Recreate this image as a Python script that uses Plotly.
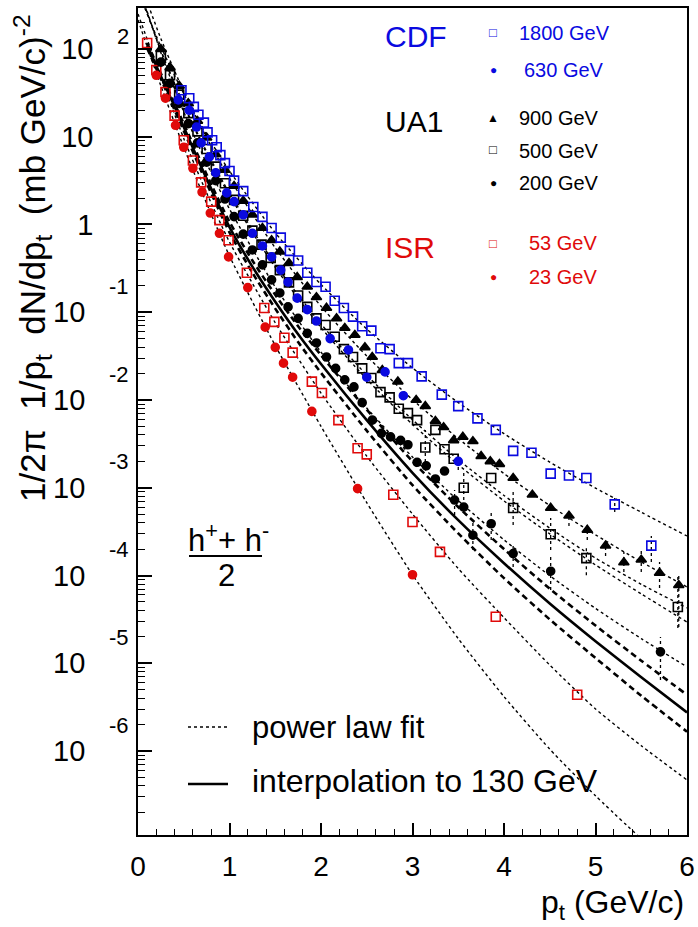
import plotly.graph_objects as go

# ---------------- data ----------------
# CDF 1800 GeV (blue open squares)
cdf1800_pt = [0.475, 0.56, 0.61, 0.66, 0.72, 0.76, 0.81, 0.86, 0.90, 0.95, 1.00, 1.05, 1.15, 1.26, 1.36,
              1.46, 1.56, 1.66, 1.75, 1.85, 1.95, 2.05, 2.15, 2.25, 2.35, 2.45, 2.55, 2.65, 2.75, 2.85,
              2.95, 3.10, 3.32, 3.50, 3.71, 3.91, 4.10, 4.30, 4.51, 4.71, 4.90, 5.21, 5.61]
cdf1800_y = [33.9, 27.5, 21.9, 17.8, 14.5, 11.2, 9.12, 7.59, 6.17, 5.01, 4.07, 3.16, 2.40, 1.58, 1.22,
             0.912, 0.708, 0.501, 0.389, 0.282, 0.221, 0.195, 0.135, 0.112, 0.0891, 0.0692, 0.0617, 0.0389, 0.0380, 0.0263,
             0.0263, 0.0186, 0.0115, 8.51e-3, 6.17e-3, 4.57e-3, 2.63e-3, 2.51e-3, 1.45e-3, 1.38e-3, 1.29e-3, 6.46e-4, 2.19e-4]

# CDF 630 GeV (blue filled circles)
cdf630_pt = [0.44, 0.56, 0.64, 0.69, 0.78, 0.85, 0.97, 1.05, 1.15, 1.25, 1.36, 1.46, 1.56, 1.64, 1.74,
             1.85, 1.95, 2.10, 2.30, 2.50, 2.70, 2.90, 3.50]
cdf630_y = [26.3, 20.0, 12.9, 8.51, 5.89, 3.89, 2.29, 1.82, 1.29, 0.794, 0.569, 0.427, 0.302, 0.221, 0.145,
            0.107, 0.0794, 0.0501, 0.0372, 0.0182, 0.0209, 0.0112, 2.00e-3]

# UA1 900 GeV (black triangles)
ua1_900_pt = [0.25, 0.35, 0.45, 0.55, 0.65, 0.75, 0.85, 0.95, 1.05, 1.15, 1.25, 1.36, 1.46, 1.55, 1.65,
              1.74, 1.85, 1.95, 2.06, 2.17, 2.26, 2.37, 2.48, 2.56, 2.67, 2.84, 3.04, 3.14, 3.25, 3.34,
              3.45, 3.55, 3.66, 3.75, 3.85, 3.95, 4.10, 4.31, 4.51, 4.71, 4.91, 5.11, 5.31, 5.50, 5.70, 5.91]
ua1_900_y = [100, 61.7, 38.0, 24.0, 15.1, 9.77, 6.31, 4.17, 2.75, 1.86, 1.29, 0.912, 0.661, 0.490, 0.363,
             0.251, 0.195, 0.148, 0.112, 0.0851, 0.0661, 0.0550, 0.0398, 0.0309, 0.0219, 0.0162, 0.0100, 8.51e-3, 5.75e-3, 4.90e-3,
             3.47e-3, 3.80e-3, 3.39e-3, 2.29e-3, 2.00e-3, 1.86e-3, 1.29e-3, 8.32e-4, 5.89e-4, 4.79e-4, 3.31e-4, 2.19e-4, 1.41e-4, 1.51e-4, 1.07e-4, 7.76e-5]

# UA1 500 GeV (black open squares)
ua1_500_pt = [0.25, 0.35, 0.45, 0.55, 0.65, 0.75, 0.85, 0.95, 1.05, 1.15, 1.25, 1.35, 1.45, 1.55, 1.65,
              1.75, 1.85, 1.95, 2.05, 2.15, 2.25, 2.35, 2.45, 2.55, 2.65, 2.75, 2.85, 2.95, 3.05, 3.14,
              3.25, 3.35, 3.45, 3.56, 3.86, 4.10, 4.51, 4.90, 5.90]
ua1_500_y = [83.2, 50.1, 30.2, 18.6, 11.5, 7.24, 4.57, 2.95, 1.91, 1.26, 0.851, 0.589, 0.417, 0.302, 0.219,
             0.155, 0.115, 0.0851, 0.0716, 0.0525, 0.0380, 0.0309, 0.0229, 0.0178, 0.0123, 0.0107, 7.94e-3, 7.08e-3, 5.89e-3, 2.88e-3,
             4.57e-3, 2.75e-3, 2.14e-3, 1.00e-3, 1.29e-3, 5.89e-4, 2.95e-4, 1.58e-4, 4.37e-5]

# UA1 200 GeV (black filled circles)
ua1_200_pt = [0.25, 0.35, 0.45, 0.55, 0.65, 0.75, 0.85, 0.95, 1.05, 1.15, 1.25, 1.36, 1.46, 1.55, 1.64,
              1.75, 1.85, 1.95, 2.06, 2.16, 2.26, 2.36, 2.45, 2.56, 2.66, 2.76, 2.87, 2.95, 3.05, 3.15,
              3.25, 3.35, 3.46, 3.56, 3.66, 3.86, 4.10, 4.51, 5.71]
ua1_200_y = [70.8, 40.7, 24.0, 14.1, 8.51, 5.13, 3.16, 1.95, 1.23, 0.776, 0.513, 0.347, 0.234, 0.166, 0.115,
             0.0851, 0.0575, 0.0447, 0.0309, 0.0229, 0.0170, 0.0141, 9.33e-3, 5.89e-3, 4.17e-3, 3.80e-3, 3.47e-3, 3.09e-3, 1.95e-3, 1.78e-3,
             1.26e-3, 1.55e-3, 7.24e-4, 6.03e-4, 2.88e-4, 3.89e-4, 1.78e-4, 1.12e-4, 1.35e-5]

# ISR 53 GeV (red open squares)
isr53_pt = [0.10, 0.20, 0.30, 0.40, 0.50, 0.60, 0.69, 0.80, 0.89, 0.99, 1.19, 1.38, 1.49, 1.60, 1.69,
            1.90, 2.01, 2.19, 2.40, 2.50, 2.79, 3.00, 3.30, 3.91, 4.80]
isr53_y = [117, 57.5, 32.4, 17.4, 9.12, 5.37, 3.02, 1.82, 1.12, 0.661, 0.282, 0.112, 0.0776, 0.0513, 0.0347,
           0.0162, 0.0120, 5.89e-3, 2.82e-3, 2.40e-3, 8.32e-4, 4.07e-4, 1.86e-4, 3.39e-5, 4.37e-6]

# ISR 23 GeV (red filled circles)
isr23_pt = [0.20, 0.30, 0.41, 0.50, 0.60, 0.70, 0.79, 0.89, 0.99, 1.20, 1.39, 1.50, 1.59, 1.69, 1.90, 2.40, 3.00]
isr23_y = [50.1, 27.5, 13.5, 7.59, 4.37, 2.34, 1.35, 0.794, 0.427, 0.191, 0.0676, 0.0398, 0.0263, 0.0182, 7.41e-3, 9.77e-4, 1.02e-4]

# vertical error bars (pt, lower end, upper end)
ua1_200_err_pt = [3.46, 3.66, 3.86, 4.10, 4.51, 5.71]
ua1_200_err_lo = [4.89e-4, 1.95e-4, 2.54e-4, 1.25e-4, 6.84e-5, 6.44e-6]
ua1_200_err_hi = [9.42e-4, 4.29e-4, 5.57e-4, 2.23e-4, 1.63e-4, 1.99e-5]
ua1_500_err_pt = [3.14, 3.56, 4.10, 4.51, 4.90, 5.90]
ua1_500_err_lo = [1.97e-3, 7.24e-4, 3.76e-4, 1.95e-4, 1.01e-4, 2.52e-5]
ua1_500_err_hi = [4.55e-3, 1.47e-3, 8.95e-4, 4.52e-4, 2.06e-4, 9.62e-5]
ua1_900_err_pt = [4.71, 4.91, 5.11, 5.31, 5.50, 5.70, 5.91]
ua1_900_err_lo = [3.66e-4, 2.54e-4, 1.67e-4, 1.10e-4, 1.10e-4, 7.21e-5, 2.59e-5]
ua1_900_err_hi = [5.87e-4, 4.07e-4, 2.67e-4, 1.85e-4, 2.00e-4, 1.43e-4, 1.01e-4]
cdf_err_pt = [5.21, 5.61, 3.50]
cdf_err_lo = [5.30e-4, 1.43e-4, 1.59e-3]
cdf_err_hi = [7.64e-4, 2.82e-4, 2.36e-3]

# power-law fit curves (dotted)
fit_pt = [0, 0.25, 0.5, 0.75, 1.0, 1.5, 2.0, 2.5, 3.0, 3.5, 4.0, 4.5, 5.0, 5.5, 6.0]
fit1800_y = [454, 106, 30.9, 10.5, 4.07, 0.804, 0.207, 0.0644, 0.0232, 9.35e-3, 4.13e-3, 1.96e-3, 9.91e-4, 5.26e-4, 2.82e-4]
fit630_y = [512, 94.6, 22.5, 6.46, 2.14, 0.324, 0.0668, 0.0172, 5.27e-3, 1.83e-3, 7.08e-4, 2.98e-4, 1.32e-4, 6.17e-5, 2.95e-5]
fit900_y = [668, 131, 32.7, 9.75, 3.35, 0.541, 0.117, 0.0317, 0.0101, 3.63e-3, 1.45e-3, 6.28e-4, 2.91e-4, 1.43e-4, 7.41e-5]
fit500_y = [513, 96.4, 23.3, 6.78, 2.27, 0.351, 0.0735, 0.0192, 5.96e-3, 2.09e-3, 8.17e-4, 3.47e-4, 1.58e-4, 7.94e-5, 4.27e-5]
fit200_y = [566, 90.8, 19.2, 4.97, 1.50, 0.194, 0.0351, 8.09e-3, 2.24e-3, 7.13e-4, 2.55e-4, 9.95e-5, 4.22e-5, 1.91e-5, 9.10e-6]
fit53_y = [251, 47.9, 9.55, 2.29, 0.631, 0.0759, 0.0120, 2.29e-3, 5.01e-4, 1.20e-4, 3.31e-5, 9.55e-6, 3.02e-6, 1.15e-6, 4.68e-7]
fit23_pt = [0, 0.25, 0.5, 0.75, 1.0, 1.5, 2.0, 2.5, 3.0, 3.5, 4.0, 4.5, 5.0, 5.5]
fit23_y = [214, 38.0, 7.59, 1.74, 0.437, 0.0417, 5.01e-3, 6.76e-4, 1.02e-4, 1.91e-5, 4.17e-6, 1.05e-6, 3.09e-7, 1.00e-7]

# interpolation to 130 GeV (solid) and its band (thick dashed)
interp_pt = [0.1, 0.25, 0.5, 0.75, 1.0, 1.25, 1.5, 1.75, 2.0, 2.5, 3.0, 3.5, 4.0, 4.5, 5.0, 5.5, 6.0]
interp_y = [110, 49.0, 12.9, 3.31, 0.933, 0.331, 0.132, 0.0562, 0.0257, 5.89e-3, 1.48e-3, 4.27e-4, 1.38e-4, 4.79e-5, 1.78e-5, 6.92e-6, 2.75e-6]
interp_hi = [117, 52.5, 14.1, 3.72, 1.07, 0.389, 0.158, 0.0692, 0.0324, 7.76e-3, 2.00e-3, 6.03e-4, 2.00e-4, 7.08e-5, 2.69e-5, 1.07e-5, 4.37e-6]
interp_lo = [102, 45.7, 11.7, 2.95, 0.813, 0.282, 0.110, 0.0457, 0.0204, 4.47e-3, 1.07e-3, 3.02e-4, 9.33e-5, 3.16e-5, 1.15e-5, 4.27e-6, 1.66e-6]

# axis ticks
x_ticks = [0, 1, 2, 3, 4, 5, 6]
y_exponents = [2, 1, 0, -1, -2, -3, -4, -5, -6]

BLUE = "#0a0ae0"
RED = "#e00a0a"
BLACK = "#000000"
FONT = "Liberation Sans, Arial, Helvetica, sans-serif"

fig = go.Figure()


def add_curve(x, y, dash, width):
    fig.add_trace(go.Scatter(x=x, y=y, mode="lines", hoverinfo="skip", showlegend=False,
                             line=dict(color=BLACK, width=width, dash=dash, shape="spline", smoothing=0.6)))


def add_err(pts, lo, hi, color=BLACK):
    xs, ys = [], []
    for p, l, h in zip(pts, lo, hi):
        xs += [p, p, None]
        ys += [l, h, None]
    fig.add_trace(go.Scatter(x=xs, y=ys, mode="lines", hoverinfo="skip", showlegend=False,
                             line=dict(color=color, width=1.3, dash="dot")))


def add_points(x, y, symbol, color, size):
    fig.add_trace(go.Scatter(x=x, y=y, mode="markers", showlegend=False,
                             marker=dict(symbol=symbol, size=size, color=color,
                                         line=dict(width=1.6, color=color))))


for fy in [fit1800_y, fit630_y, fit900_y, fit500_y, fit200_y, fit53_y]:
    add_curve(fit_pt, fy, "dot", 1.4)
add_curve(fit23_pt, fit23_y, "dot", 1.4)
add_curve(interp_pt, interp_hi, "6px,4px", 2.6)
add_curve(interp_pt, interp_lo, "6px,4px", 2.6)
add_curve(interp_pt, interp_y, "solid", 2.6)

add_err(ua1_200_err_pt, ua1_200_err_lo, ua1_200_err_hi)
add_err(ua1_500_err_pt, ua1_500_err_lo, ua1_500_err_hi)
add_err(ua1_900_err_pt, ua1_900_err_lo, ua1_900_err_hi)
add_err(cdf_err_pt, cdf_err_lo, cdf_err_hi)

add_points(isr23_pt, isr23_y, "circle", RED, 8)
add_points(isr53_pt, isr53_y, "square-open", RED, 9)
add_points(ua1_200_pt, ua1_200_y, "circle", BLACK, 8)
add_points(ua1_500_pt, ua1_500_y, "square-open", BLACK, 9)
add_points(ua1_900_pt, ua1_900_y, "triangle-up", BLACK, 9)
add_points(cdf630_pt, cdf630_y, "circle", BLUE, 8)
add_points(cdf1800_pt, cdf1800_y, "square-open", BLUE, 9)

W, H = 698, 927
L, R, T, B = 138, 11, 8, 92
PW, PH = W - L - R, H - T - B


def px(xp):
    return (xp - L) / PW


def py(yp):
    return (H - B - yp) / PH


annotations = []


def txt(text, x, y, size, color=BLACK, xanchor="left", yanchor="middle", **kw):
    annotations.append(dict(text=text, x=px(x), y=py(y), xref="paper", yref="paper",
                            xanchor=xanchor, yanchor=yanchor, showarrow=False,
                            font=dict(family=FONT, size=size, color=color), **kw))


# y tick label exponents
for e in y_exponents:
    if e in (0, 1):
        continue
    annotations.append(dict(text=str(e), x=px(131), y=e, xref="paper", yref="y", xanchor="right",
                            yanchor="middle", yshift=(12 if e > 0 else 26), showarrow=False,
                            font=dict(family=FONT, size=22, color=BLACK)))

# axis titles
txt("1/2π&nbsp;&nbsp;1/p<sub>t</sub>&nbsp;&nbsp;dN/dp<sub>t</sub>&nbsp;&nbsp;(mb GeV/c)<sup>-2</sup>", 32, 12, 35,
    xanchor="center", yanchor="top", textangle=-90)
txt("p<sub>t</sub> (GeV/c)", 686, 904, 32, xanchor="right")

# top-right legend
txt("CDF", 383, 37, 30, BLUE)
txt("UA1", 383, 122, 30, BLACK)
txt("ISR", 383, 247, 30, RED)
txt("□", 493, 33, 13, BLUE, xanchor="center")
txt("●", 493, 70, 12, BLUE, xanchor="center")
txt("▲", 493, 118, 12, BLACK, xanchor="center")
txt("□", 493, 150, 13, BLACK, xanchor="center")
txt("●", 493, 183, 12, BLACK, xanchor="center")
txt("□", 493, 243, 13, RED, xanchor="center")
txt("●", 493, 277, 12, RED, xanchor="center")
txt("1800 GeV", 517, 33, 20, BLUE)
txt("630 GeV", 522, 70, 20, BLUE)
txt("900 GeV", 517, 118, 20, BLACK)
txt("500 GeV", 517, 151, 20, BLACK)
txt("200 GeV", 517, 183, 20, BLACK)
txt("53 GeV", 527, 243, 20, RED)
txt("23 GeV", 527, 277, 20, RED)

# (h+ + h-)/2
txt("h<sup>+</sup>+ h<sup>-</sup>", 228, 538, 31, xanchor="center")
txt("2", 226, 575, 31, xanchor="center")

# bottom-left legend
txt("power law fit", 250, 727, 31)
txt("interpolation to 130 GeV", 250, 781, 32)

shapes = [
    dict(type="line", xref="paper", yref="paper", x0=px(189), x1=px(262), y0=py(556), y1=py(556),
         line=dict(color=BLACK, width=2)),
    dict(type="line", xref="paper", yref="paper", x0=px(188), x1=px(228), y0=py(727), y1=py(727),
         line=dict(color=BLACK, width=1.4, dash="dot")),
    dict(type="line", xref="paper", yref="paper", x0=px(188), x1=px(228), y0=py(784), y1=py(784),
         line=dict(color=BLACK, width=2.6)),
]

minor_y = [k * 10.0 ** e for e in range(-7, 3) for k in range(2, 10)]
y_ticktext = ["10" if e > 0 else ("1" if e == 0 else "10&nbsp;") for e in y_exponents]

fig.update_layout(
    width=W, height=H, margin=dict(l=L, r=R, t=T, b=B, autoexpand=False),
    paper_bgcolor="white", plot_bgcolor="white",
    font=dict(family=FONT, color=BLACK),
    showlegend=False,
    annotations=annotations, shapes=shapes,
    xaxis=dict(range=[0, 6], tickmode="array", tickvals=x_ticks, ticktext=[str(v) for v in x_ticks],
               ticks="inside", ticklen=12, tickwidth=1.5, tickcolor=BLACK,
               minor=dict(dtick=0.2, tick0=0, ticks="inside", ticklen=6, tickwidth=1.2, tickcolor=BLACK),
               showgrid=False, zeroline=False, showline=True, linecolor=BLACK, linewidth=1.5, mirror=True,
               tickfont=dict(size=28, family=FONT, color=BLACK), ticklabelstandoff=6, automargin=False),
    yaxis=dict(type="log", range=[-6.957, 2.467], tickmode="array",
               tickvals=[10.0 ** e for e in y_exponents], ticktext=y_ticktext,
               ticks="inside", ticklen=14, tickwidth=1.5, tickcolor=BLACK,
               minor=dict(tickmode="array", tickvals=minor_y, ticks="inside", ticklen=7, tickwidth=1.2,
                          tickcolor=BLACK),
               showgrid=False, zeroline=False, showline=True, linecolor=BLACK, linewidth=1.5, mirror=True,
               tickfont=dict(size=29, family=FONT, color=BLACK), ticklabelstandoff=37, automargin=False),
)

fig.write_html("out.html", config={"displayModeBar": False},
               post_script="document.body.style.margin='0px';document.body.style.overflow='hidden';")
